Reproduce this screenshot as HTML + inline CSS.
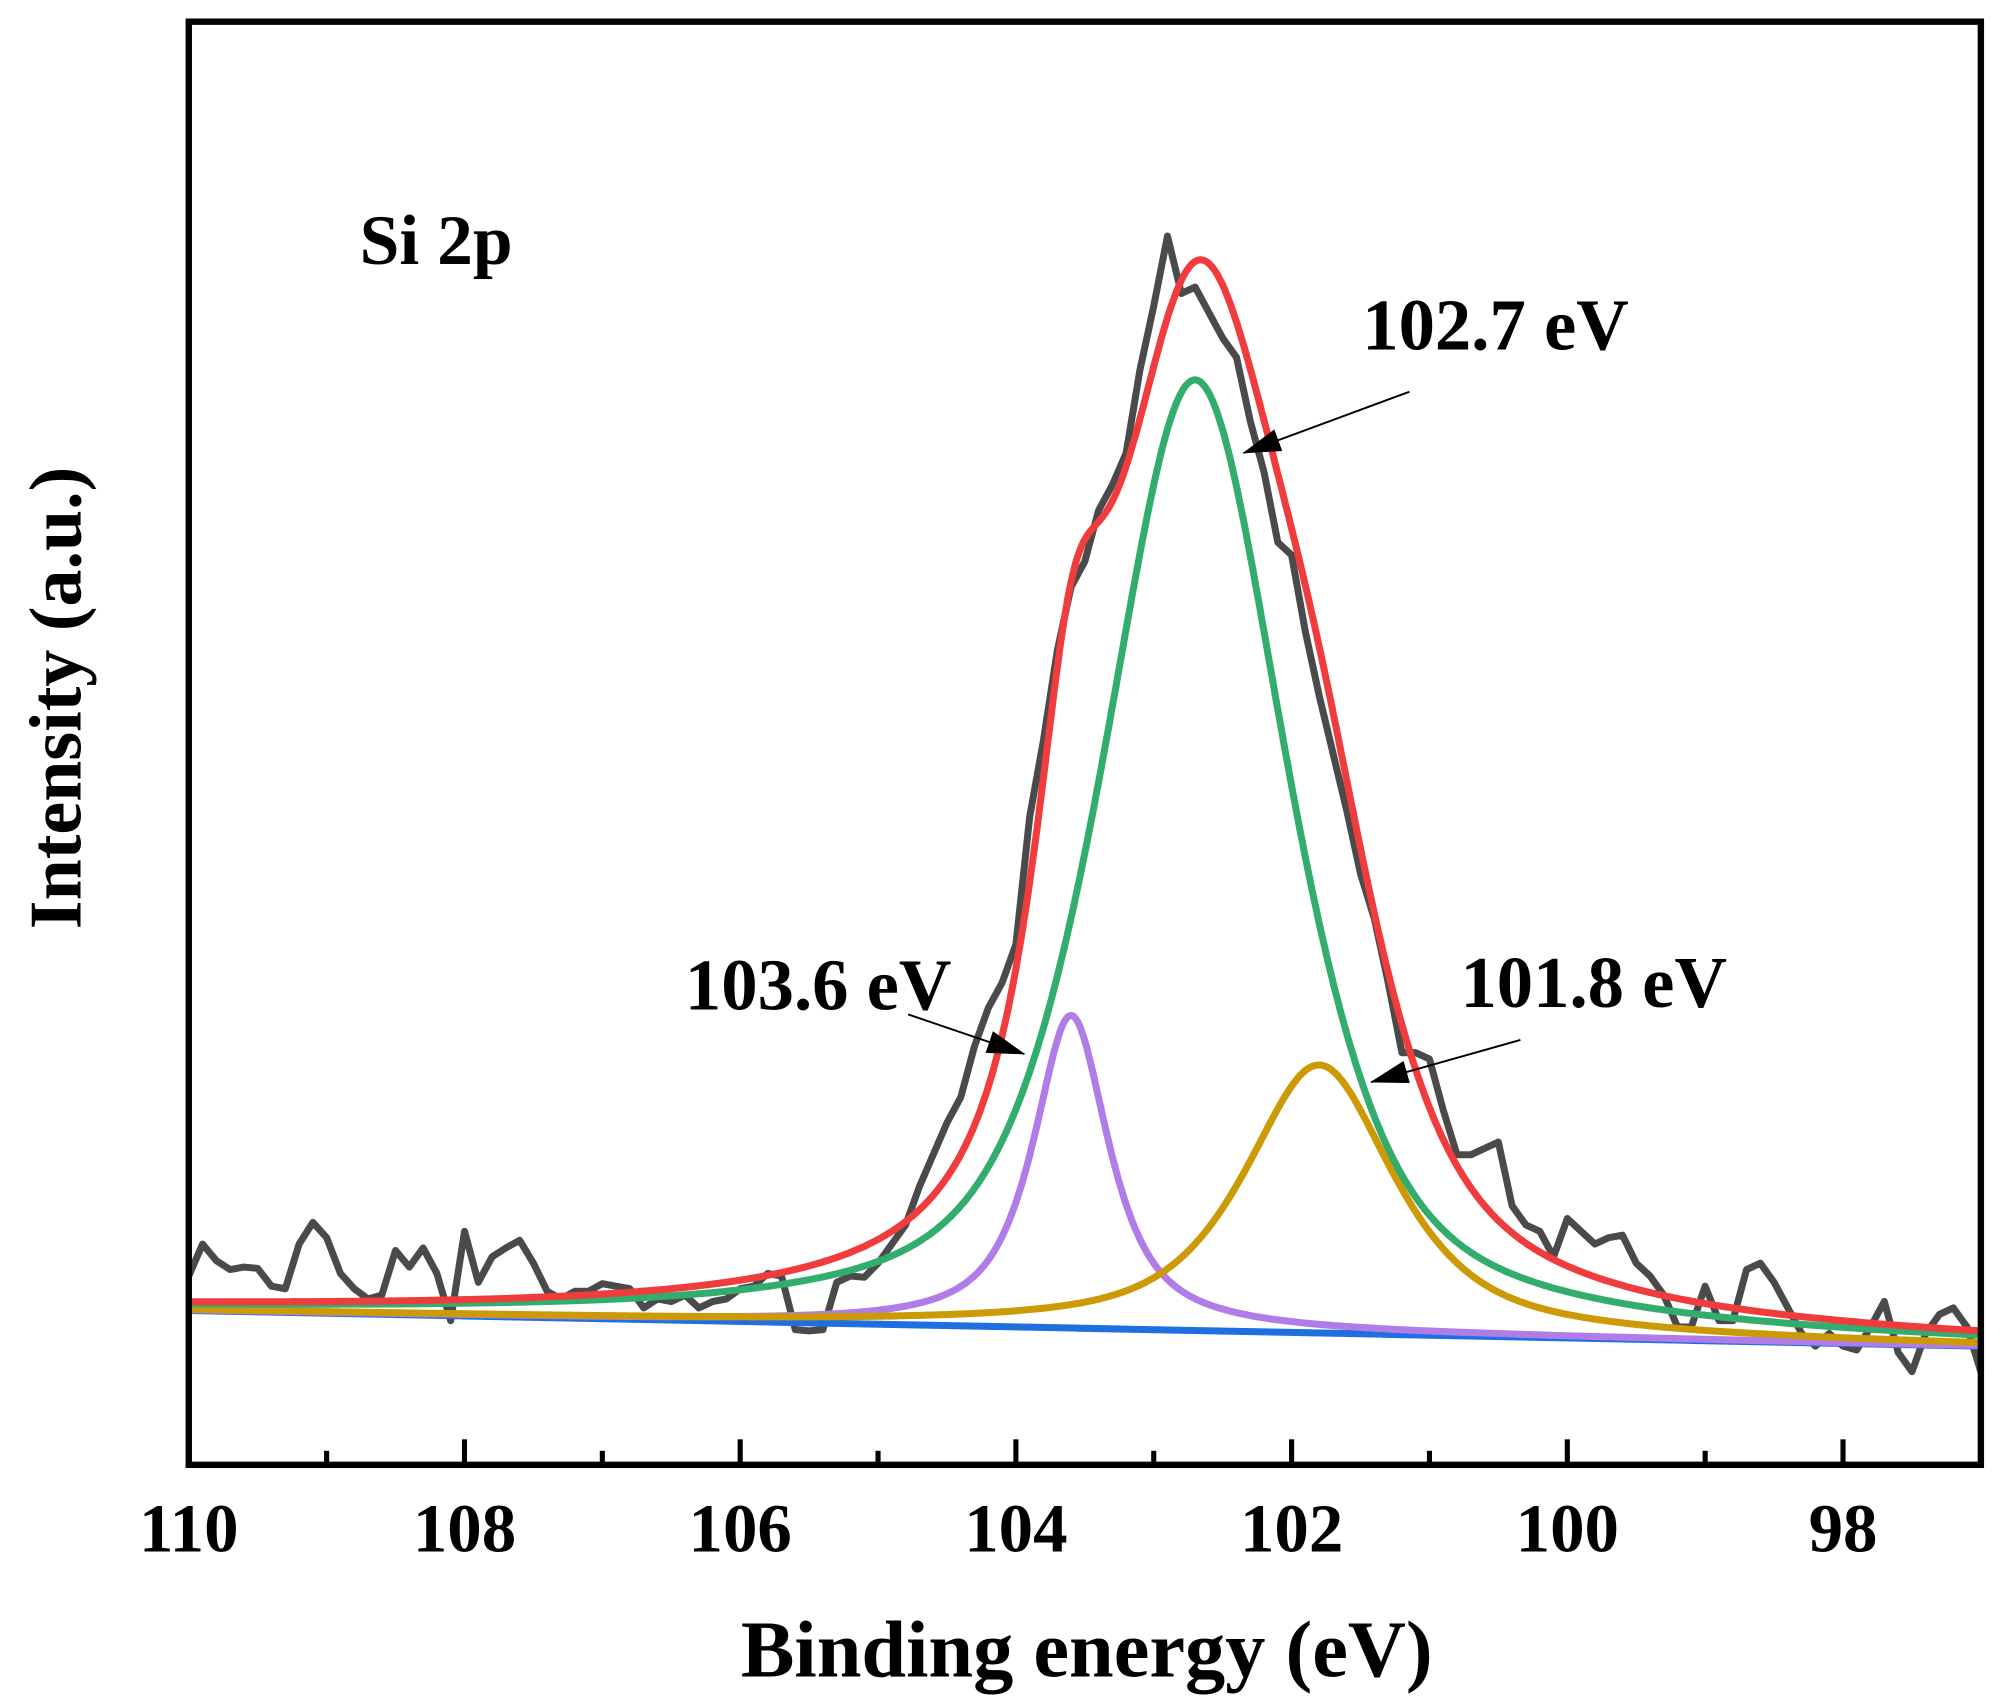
<!DOCTYPE html>
<html><head><meta charset="utf-8"><style>
html,body{margin:0;padding:0;background:#fff;}
svg{display:block;}
text{font-family:"Liberation Serif",serif;font-weight:bold;fill:#000;}
</style></head><body>
<svg id="chart" width="2000" height="1706" viewBox="0 0 1568 1337" preserveAspectRatio="none" xmlns="http://www.w3.org/2000/svg">
<defs>
<marker id="ah2" markerWidth="30" markerHeight="18" refX="29" refY="9" orient="auto" markerUnits="userSpaceOnUse" viewBox="0 0 30 18"><path d="M0,0 L30,9 L0,18 z" fill="#000"/></marker></defs>
<g id="series"></g>
<rect x="148" y="17" width="1405" height="1131" fill="none" stroke="#000" stroke-width="5"/>
<g id="ticks"></g>
<text x="282" y="207" font-size="56">Si 2p</text>
<text x="1068" y="274" font-size="57">102.7 eV</text>
<text x="537" y="791" font-size="57">103.6 eV</text>
<text x="1145" y="789" font-size="57">101.8 eV</text>
<line x1="1105" y1="307" x2="975" y2="355" stroke="#000" stroke-width="1.5" marker-end="url(#ah2)"/>
<line x1="712" y1="795" x2="803" y2="826" stroke="#000" stroke-width="1.5" marker-end="url(#ah2)"/>
<line x1="1192" y1="815" x2="1075" y2="848" stroke="#000" stroke-width="1.5" marker-end="url(#ah2)"/>
<text x="852" y="1314" font-size="63" text-anchor="middle">Binding energy (eV)</text>
<text transform="translate(63,547) rotate(-90)" font-size="58" text-anchor="middle">Intensity (a.u.)</text>
</svg>
<script>
const xTicks = [110,108,106,104,102,100,98];
const minorTicks = [109,107,105,103,101,99,97];
const rawCounts = [150,175,162,155,157,156,142,140,175,192,180,152,140,132,135,170,157,172,152,115,185,145,165,172,178,160,138,132,138,138,144,142,140,125,132,130,135,125,130,132,140,142,152,150,108,107,108,145,150,149,160,175,190,220,245,270,290,330,360,380,410,510,570,640,690,710,750,770,795,860,910,965,920,925,905,885,870,820,780,725,715,655,605,560,515,465,430,380,325,325,320,280,245,245,250,255,205,190,185,165,195,185,175,180,182,160,150,135,110,110,142,115,115,155,160,145,125,105,95,105,95,92,110,130,90,75,105,120,125,110,75];
const baselineEnds = [123,95];
const peakCenters = [103.6,102.7,101.8];
const peakHeights = [245,745,210];
const peakFwhm = [0.66,1.6,1.3];
const peakMix = [0.85,0.6,0.75];
const peakColors = ['#b07de8','#33ad6e','#cc9a06'];
const X0=110, X1=97, PX0=148, PX1=1553, PYB=1150;
const xs = e => PX0 + (X0-e)/(X0-X1)*(PX1-PX0);
const ys = v => PYB - v;
const svg = document.getElementById('series');
const NS='http://www.w3.org/2000/svg';
function base(e){return baselineEnds[0]+(X0-e)/(X0-X1)*(baselineEnds[1]-baselineEnds[0]);}
function pv(e,i){const d=e-peakCenters[i],w=peakFwhm[i]/2;const L=1/(1+(d/w)**2);const G=Math.exp(-Math.LN2*(d/w)**2);const m=peakMix[i];return peakHeights[i]*(m*L+(1-m)*G);}
function line(pts,color,name,w){const p=document.createElementNS(NS,'polyline');
p.setAttribute('points',pts.map(q=>q[0].toFixed(1)+','+q[1].toFixed(1)).join(' '));
p.setAttribute('fill','none');p.setAttribute('stroke',color);p.setAttribute('stroke-width',w);p.setAttribute('stroke-linejoin','round');


svg.appendChild(p);}
line(rawCounts.map((v,i)=>[xs(X0-i*0.1),ys(v)]),'#4a4a4a','raw-data-line',5.5);
const grid=[];for(let k=0;k<=1300;k++)grid.push(X0-k*0.01);
line(grid.map(e=>[xs(e),ys(base(e))]),'#1f6fe0','background-line',5.5);
const order=[0,2,1];
const names=['peak-103-6-line','peak-102-7-line','peak-101-8-line'];
order.forEach(i=>line(grid.map(e=>[xs(e),ys(base(e)+pv(e,i))]),peakColors[i],names[i],5.5));
line(grid.map(e=>[xs(e),ys(base(e)+pv(e,0)+pv(e,1)+pv(e,2))]),'#f03c3c','envelope-fit-line',5.5);
const tg=document.getElementById('ticks');
xTicks.forEach(t=>{const x=xs(t);
const l=document.createElementNS(NS,'line');l.setAttribute('x1',x);l.setAttribute('x2',x);l.setAttribute('y1',1148);l.setAttribute('y2',1128);l.setAttribute('stroke','#000');l.setAttribute('stroke-width',4);


tg.appendChild(l);
const tx=document.createElementNS(NS,'text');tx.setAttribute('x',x);tx.setAttribute('y',1216);tx.setAttribute('font-size',54);tx.setAttribute('text-anchor','middle');tx.textContent=t;


tg.appendChild(tx);});
minorTicks.forEach(t=>{const x=xs(t);if(x>PX1-3)return;
const l=document.createElementNS(NS,'line');l.setAttribute('x1',x);l.setAttribute('x2',x);l.setAttribute('y1',1148);l.setAttribute('y2',1137);l.setAttribute('stroke','#000');l.setAttribute('stroke-width',4);


tg.appendChild(l);});
</script>
</body></html>
